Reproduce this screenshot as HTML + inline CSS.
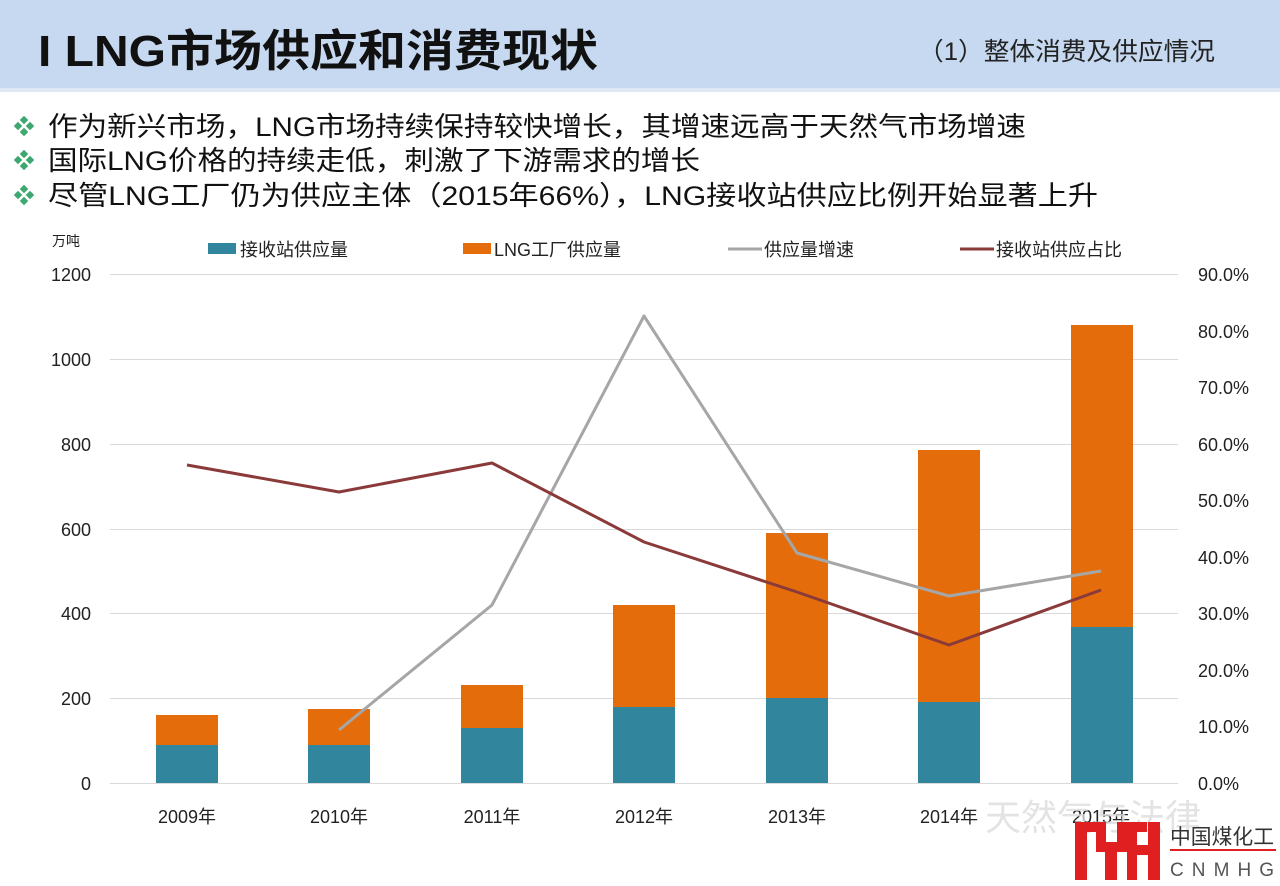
<!DOCTYPE html>
<html><head><meta charset="utf-8"><style>
body{margin:0;width:1280px;height:886px;background:#fff;overflow:hidden;font-family:"Liberation Sans","Noto Sans CJK SC",sans-serif;}
</style></head><body>
<svg width="1280" height="886" viewBox="0 0 1280 886" xmlns="http://www.w3.org/2000/svg" style="position:absolute;left:0;top:0">
<rect x="0" y="0" width="1280" height="88" fill="#c6d9f0"/>
<rect x="0" y="88" width="1280" height="4" fill="#dfe8f3"/>
<text x="38" y="66" font-size="44" font-weight="bold" fill="#111" textLength="560" lengthAdjust="spacingAndGlyphs" font-family="'Liberation Sans','Noto Sans CJK SC',sans-serif">I  LNG市场供应和消费现状</text>
<text x="918" y="60" font-size="25" fill="#222" textLength="297" lengthAdjust="spacingAndGlyphs" font-family="'Liberation Sans','Noto Sans CJK SC',sans-serif">（1）整体消费及供应情况</text>
<g fill="#3ea870">
<g transform="translate(24,126)"><rect x="-3" y="-9" width="6" height="6" transform="rotate(45 0 -6)"/><rect x="-3" y="3" width="6" height="6" transform="rotate(45 0 6)"/><rect x="-9" y="-3" width="6" height="6" transform="rotate(45 -6 0)"/><rect x="3" y="-3" width="6" height="6" transform="rotate(45 6 0)"/></g>
<g transform="translate(24,160)"><rect x="-3" y="-9" width="6" height="6" transform="rotate(45 0 -6)"/><rect x="-3" y="3" width="6" height="6" transform="rotate(45 0 6)"/><rect x="-9" y="-3" width="6" height="6" transform="rotate(45 -6 0)"/><rect x="3" y="-3" width="6" height="6" transform="rotate(45 6 0)"/></g>
<g transform="translate(24,195)"><rect x="-3" y="-9" width="6" height="6" transform="rotate(45 0 -6)"/><rect x="-3" y="3" width="6" height="6" transform="rotate(45 0 6)"/><rect x="-9" y="-3" width="6" height="6" transform="rotate(45 -6 0)"/><rect x="3" y="-3" width="6" height="6" transform="rotate(45 6 0)"/></g>
</g>
<g font-size="27" fill="#111" font-family="'Liberation Sans','Noto Sans CJK SC',sans-serif" lengthAdjust="spacingAndGlyphs">
<text x="48" y="136" textLength="978" lengthAdjust="spacingAndGlyphs">作为新兴市场，LNG市场持续保持较快增长，其增速远高于天然气市场增速</text>
<text x="48" y="170" textLength="652" lengthAdjust="spacingAndGlyphs">国际LNG价格的持续走低，刺激了下游需求的增长</text>
<text x="48" y="205" textLength="1050" lengthAdjust="spacingAndGlyphs">尽管LNG工厂仍为供应主体（2015年66%），LNG接收站供应比例开始显著上升</text>
</g>
<g stroke="#d9d9d9" stroke-width="1">
<line x1="110" y1="274.5" x2="1178" y2="274.5"/><line x1="110" y1="359.5" x2="1178" y2="359.5"/><line x1="110" y1="444.5" x2="1178" y2="444.5"/><line x1="110" y1="529.5" x2="1178" y2="529.5"/><line x1="110" y1="613.5" x2="1178" y2="613.5"/><line x1="110" y1="698.5" x2="1178" y2="698.5"/><line x1="110" y1="783.5" x2="1178" y2="783.5"/>
</g>
<g font-size="18" fill="#222" text-anchor="end">
<text x="91" y="281">1200</text><text x="91" y="366">1000</text><text x="91" y="451">800</text><text x="91" y="536">600</text><text x="91" y="620">400</text><text x="91" y="705">200</text><text x="91" y="790">0</text>
</g>
<g font-size="18" fill="#222">
<text x="1198" y="281">90.0%</text><text x="1198" y="338">80.0%</text><text x="1198" y="394">70.0%</text><text x="1198" y="451">60.0%</text><text x="1198" y="507">50.0%</text><text x="1198" y="564">40.0%</text><text x="1198" y="620">30.0%</text><text x="1198" y="677">20.0%</text><text x="1198" y="733">10.0%</text><text x="1198" y="790">0.0%</text>
</g>
<text x="52" y="246" font-size="14" fill="#222" font-family="'Liberation Sans','Noto Sans CJK SC',sans-serif">万吨</text>
<g font-size="18" fill="#222" font-family="'Liberation Sans','Noto Sans CJK SC',sans-serif">
<rect x="208" y="243" width="28" height="11" fill="#31859c"/><text x="240" y="256">接收站供应量</text>
<rect x="463" y="243" width="28" height="11" fill="#e46c0a"/><text x="494" y="256">LNG工厂供应量</text>
<line x1="728" y1="249" x2="762" y2="249" stroke="#a6a6a6" stroke-width="3"/><text x="764" y="256">供应量增速</text>
<line x1="960" y1="249" x2="994" y2="249" stroke="#8b3a3a" stroke-width="3"/><text x="996" y="256">接收站供应占比</text>
</g>
<g fill="#e46c0a">
<rect x="156" y="715" width="62" height="30"/><rect x="308" y="709" width="62" height="36"/><rect x="461" y="685" width="62" height="43"/><rect x="613" y="605" width="62" height="102"/><rect x="766" y="533" width="62" height="165"/><rect x="918" y="450" width="62" height="252"/><rect x="1071" y="325" width="62" height="302"/>
</g>
<g fill="#31859c">
<rect x="156" y="745" width="62" height="38"/><rect x="308" y="745" width="62" height="38"/><rect x="461" y="728" width="62" height="55"/><rect x="613" y="707" width="62" height="76"/><rect x="766" y="698" width="62" height="85"/><rect x="918" y="702" width="62" height="81"/><rect x="1071" y="627" width="62" height="156"/>
</g>
<polyline points="339,730 492,605 644,316 797,553 949,596 1101,571" fill="none" stroke="#a6a6a6" stroke-width="3" stroke-linejoin="round"/>
<polyline points="187,465 339,492 492,463 644,542 797,592 949,645 1101,590" fill="none" stroke="#8b3a3a" stroke-width="3" stroke-linejoin="round"/>
<g font-size="18" fill="#222" text-anchor="middle" font-family="'Liberation Sans','Noto Sans CJK SC',sans-serif">
<text x="187" y="823">2009年</text><text x="339" y="823">2010年</text><text x="492" y="823">2011年</text><text x="644" y="823">2012年</text><text x="797" y="823">2013年</text><text x="949" y="823">2014年</text><text x="1101" y="823">2015年</text>
</g>
<text x="985" y="830" font-size="36" fill="#ddd" opacity="0.8" font-family="'Liberation Sans','Noto Sans CJK SC',sans-serif">天然气与法律</text>
<g fill="#e02020">
<rect x="1075" y="822" width="12" height="58"/><rect x="1075" y="822" width="30" height="10"/><rect x="1096" y="822" width="10" height="30"/><rect x="1105" y="842" width="12" height="38"/><rect x="1117" y="822" width="10" height="30"/><rect x="1117" y="822" width="30" height="10"/><rect x="1148" y="822" width="12" height="58"/><rect x="1127" y="845" width="21" height="10"/><rect x="1127" y="822" width="10" height="58"/>
<rect x="1170" y="849" width="106" height="2"/>
</g>
<text x="1170" y="844" font-size="21" fill="#333" textLength="104" lengthAdjust="spacingAndGlyphs" font-family="'Liberation Sans','Noto Sans CJK SC',sans-serif">中国煤化工</text>
<text x="1170" y="876" font-size="19" fill="#555" textLength="104" lengthAdjust="spacing">CNMHG</text>
</svg>
</body></html>
